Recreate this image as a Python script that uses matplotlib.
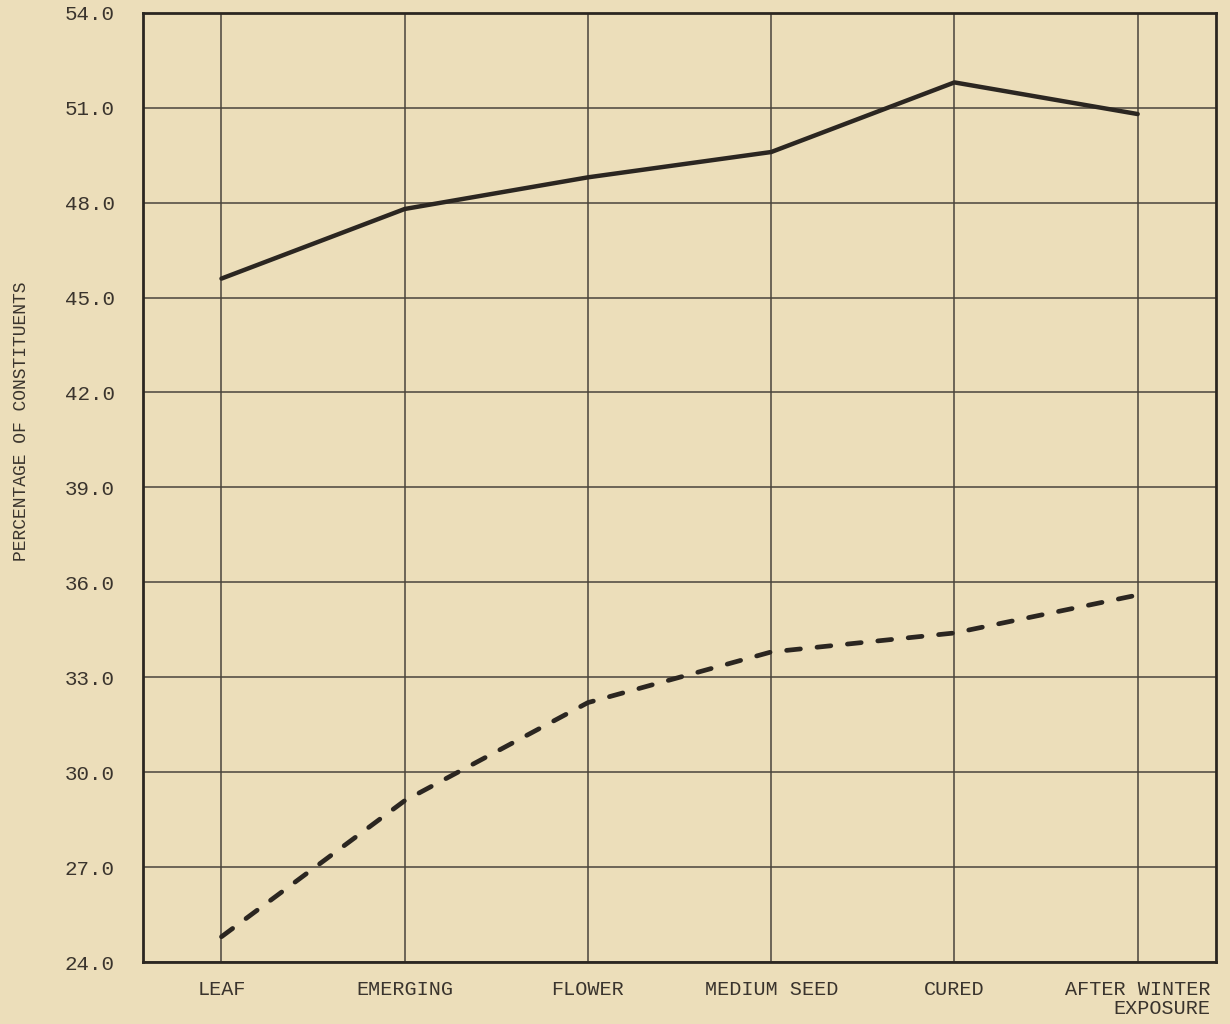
import numpy as np
import matplotlib.pyplot as plt

# データ
stages = ['LEAF', 'EMERGING', 'FLOWER', 'MEDIUM SEED', 'CURED', 'AFTER WINTER\nEXPOSURE']
solid_vals = [45.6, 47.8, 48.8, 49.6, 51.8, 50.8]
dashed_vals = [24.8, 29.1, 32.2, 33.8, 34.4, 35.6]
yticks = [24.0, 27.0, 30.0, 33.0, 36.0, 39.0, 42.0, 45.0, 48.0, 51.0, 54.0]

bg = '#ecdeba'
ink = '#2b2621'
grid_c = '#4a443c'

plt.rcParams['font.family'] = ['Liberation Mono', 'DejaVu Sans Mono']
plt.rcParams['lines.scale_dashes'] = False

fig = plt.figure(figsize=(12.3, 10.24), dpi=100, facecolor=bg)
ax = fig.add_axes([0.116, 0.0605, 0.873, 0.927])
ax.set_facecolor(bg)

x = np.arange(len(stages))
ax.plot(x, solid_vals, color=ink, lw=3.2, solid_capstyle='round', zorder=3)
ax.plot(x, dashed_vals, color=ink, lw=3.4, dashes=(10, 12),
        dash_capstyle='round', zorder=3)

ax.set_xlim(-0.43, len(stages) - 1 + 0.43)
ax.set_ylim(24, 54)
ax.set_xticks(x)
ax.set_xticklabels(stages, fontsize=14.5, multialignment='right', linespacing=1.0)
ax.set_yticks(yticks)
ax.set_yticklabels(['%.1f' % v for v in yticks], fontsize=15)
ax.tick_params(axis='both', length=0, colors='#3a342d')
ax.tick_params(axis='y', pad=20)
ax.tick_params(axis='x', pad=13)

ax.grid(True, color=grid_c, lw=1.1)
ax.set_axisbelow(True)
for s in ax.spines.values():
    s.set_color(ink)
    s.set_linewidth(2.0)

ax.set_ylabel('PERCENTAGE OF CONSTITUENTS', fontsize=13, color='#3a342d')
# ラベル位置 (図の左端近く)
ax.yaxis.set_label_coords(-0.105, 0.57)

fig.savefig('out.png', dpi=100, facecolor=bg)
